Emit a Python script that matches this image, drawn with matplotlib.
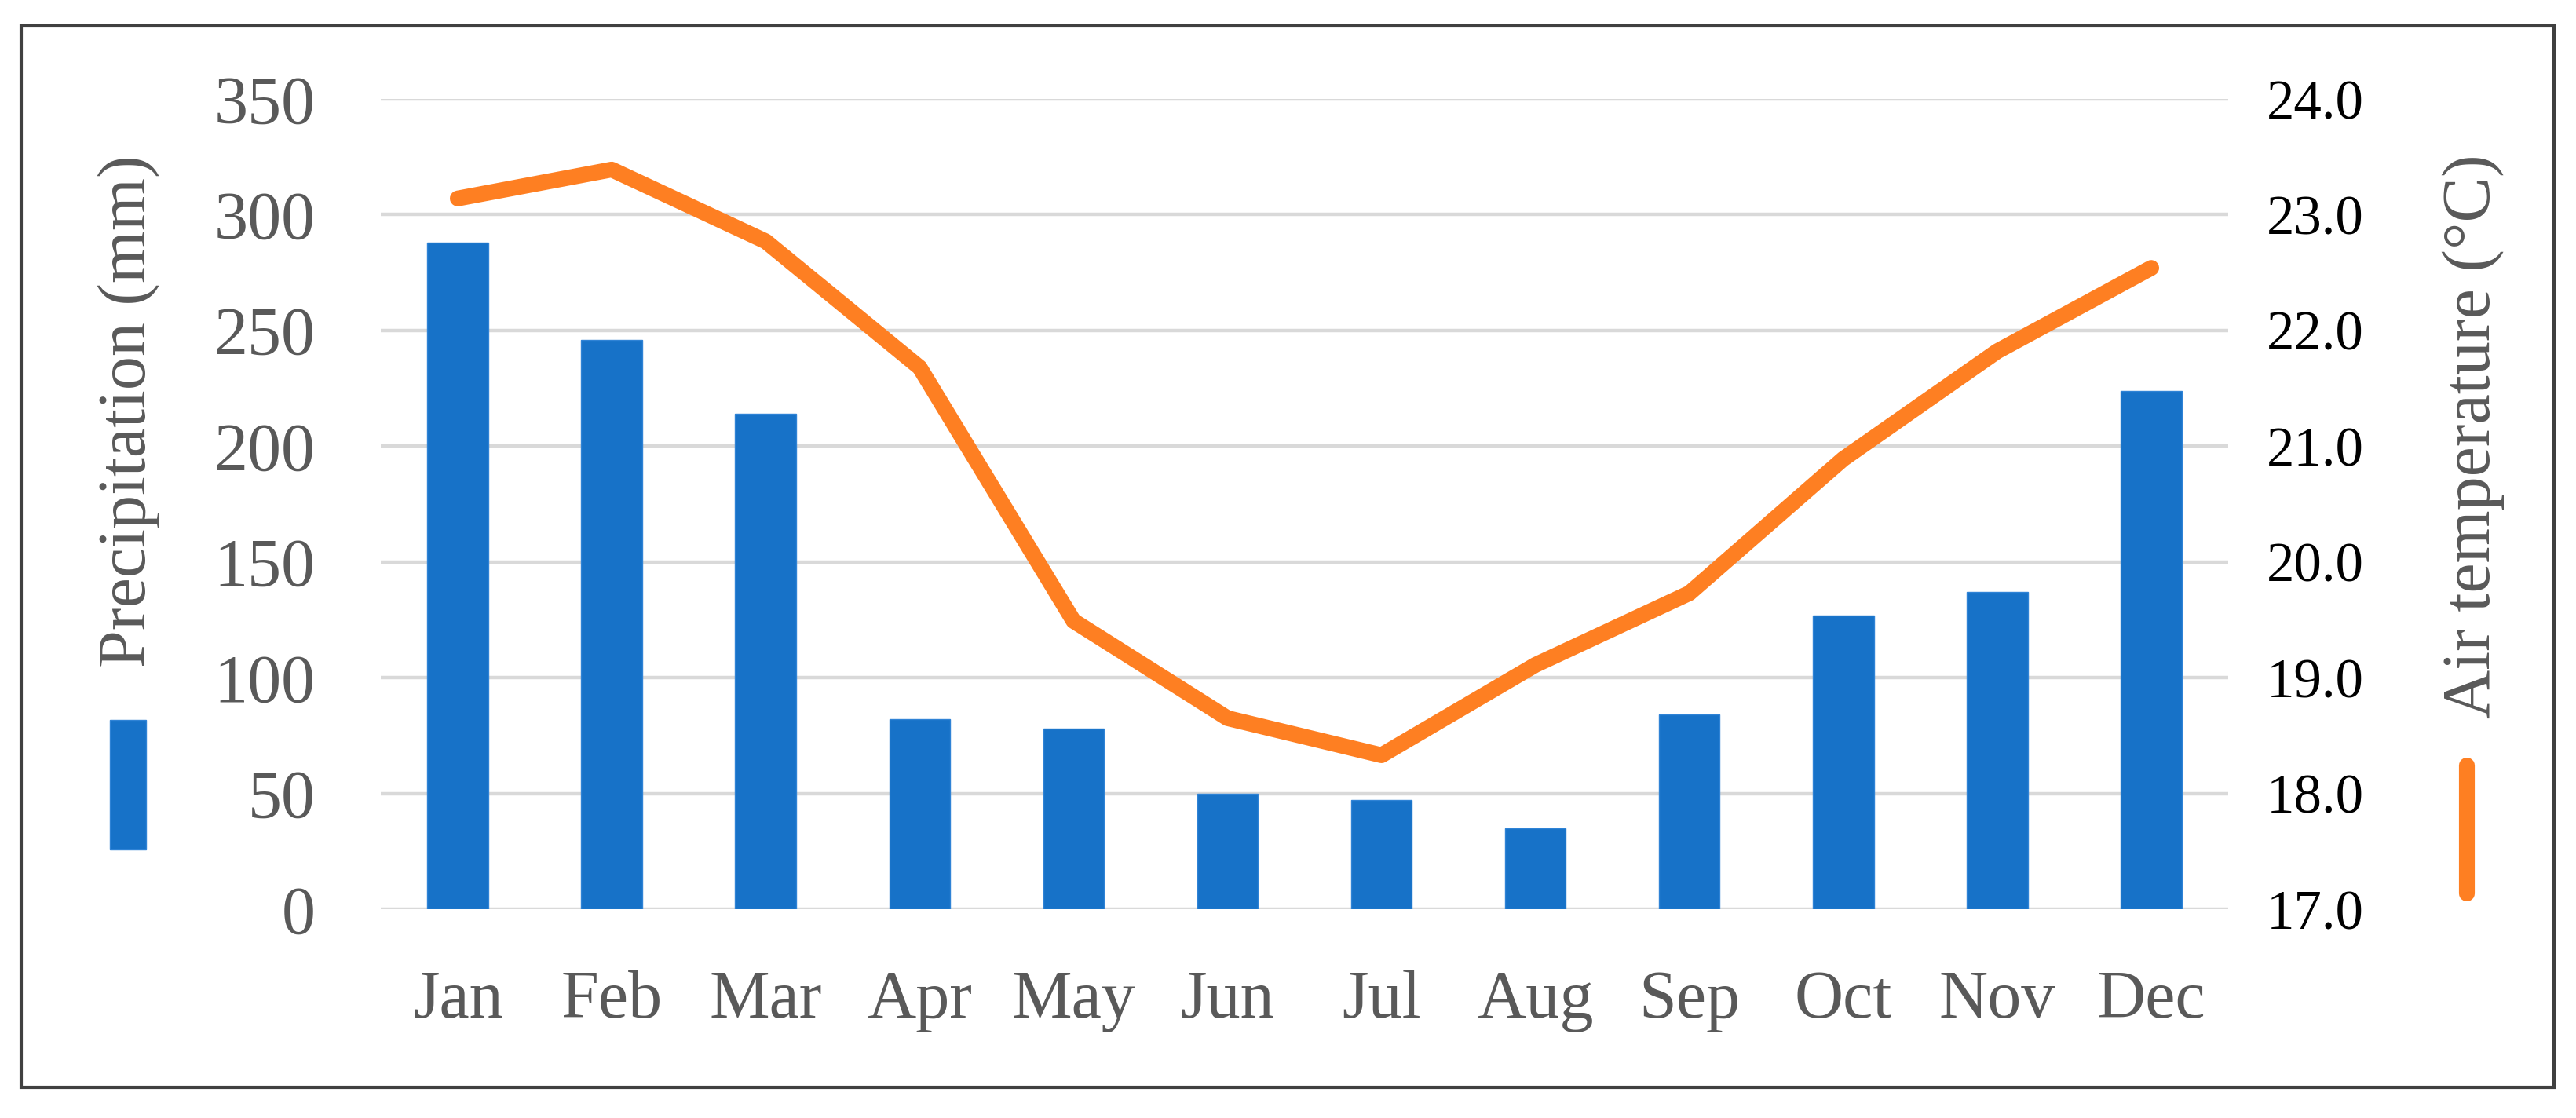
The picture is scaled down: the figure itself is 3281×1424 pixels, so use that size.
import matplotlib
matplotlib.use("Agg")
import matplotlib.pyplot as plt
import matplotlib.patches as mpatches
from matplotlib.lines import Line2D
import numpy as np

# ── Data ──────────────────────────────────────────────────────────────────────
months = ["Jan", "Feb", "Mar", "Apr", "May", "Jun",
          "Jul", "Aug", "Sep", "Oct", "Nov", "Dec"]
precip_mm = [288, 246, 214, 82, 78, 50, 47, 35, 84, 127, 137, 224]
air_temp_c = [23.14, 23.39, 22.77, 21.68, 19.49, 18.65,
              18.33, 19.11, 19.73, 20.89, 21.82, 22.54]

precip_ticks = [0, 50, 100, 150, 200, 250, 300, 350]
temp_ticks = [17.0, 18.0, 19.0, 20.0, 21.0, 22.0, 23.0, 24.0]

# ── Style ─────────────────────────────────────────────────────────────────────
bar_color = "#1772C8"
line_color = "#FE7F22"
grid_color = "#D9D9D9"
text_gray = "#595959"
font = "Liberation Serif"

plt.rcParams["font.family"] = [font, "DejaVu Serif"]

W, H = 3281, 1424
fig = plt.figure(figsize=(W / 100, H / 100), dpi=100)
fig.patch.set_facecolor("white")

# axes box in pixels: x 485..2838, y 126..1158 (from top)
ax = fig.add_axes([485 / W, 1 - 1158 / H, (2838 - 485) / W, (1158 - 126) / H])
x = np.arange(len(months))

ax.bar(x, precip_mm, 0.395, color=bar_color, edgecolor="#2F83D6",
       linewidth=1.0, zorder=2)
ax.set_xlim(-0.5, len(months) - 0.5)
ax.set_ylim(0, 350)
ax.set_yticks(precip_ticks)
ax.set_yticklabels([str(t) for t in precip_ticks])
ax.set_xticks(x)
ax.set_xticklabels(months)
ax.yaxis.grid(True, color=grid_color, linewidth=3.2, zorder=0)
ax.set_axisbelow(True)
for s in ax.spines.values():
    s.set_visible(False)
ax.tick_params(axis="y", length=0, pad=60, labelsize=62, labelcolor=text_gray)
ax.tick_params(axis="x", length=0, pad=56, labelsize=62, labelcolor=text_gray)

# ── Temperature on the secondary axis ─────────────────────────────────────────
ax2 = ax.twinx()
ax2.plot(x, air_temp_c, color=line_color, linewidth=14.5,
         solid_capstyle="round", solid_joinstyle="round", zorder=3)
ax2.set_ylim(17, 24)
ax2.set_yticks(temp_ticks)
ax2.set_yticklabels([f"{t:.1f}" for t in temp_ticks])
for s in ax2.spines.values():
    s.set_visible(False)
ax2.tick_params(axis="y", length=0, pad=35, labelsize=51, labelcolor="black")

# ── Axis titles and legend keys placed like the original ──────────────────────
fig.text(164 / W, 1 - 524 / H, "Precipitation (mm)", rotation=90,
         ha="center", va="center", fontsize=62, color=text_gray)
fig.text(3150 / W, 1 - 556 / H, "Air temperature (°C)", rotation=90,
         ha="center", va="center", fontsize=62, color=text_gray)

fig.patches.append(mpatches.Rectangle((140 / W, 1 - 1082 / H), 46 / W, 165 / H,
                                      transform=fig.transFigure,
                                      facecolor=bar_color, edgecolor="#2F83D6",
                                      linewidth=1.0))
fig.lines.append(Line2D([3142 / W, 3142 / W], [1 - 1138 / H, 1 - 975 / H],
                        transform=fig.transFigure, color=line_color,
                        linewidth=14.5, solid_capstyle="round"))

# outer frame
fig.patches.append(mpatches.Rectangle((27 / W, 1 - 1385 / H), (3253 - 27) / W,
                                      (1385 - 33) / H, transform=fig.transFigure,
                                      fill=False, edgecolor="#404040",
                                      linewidth=3))

fig.savefig("out.png", dpi=100, facecolor="white")
